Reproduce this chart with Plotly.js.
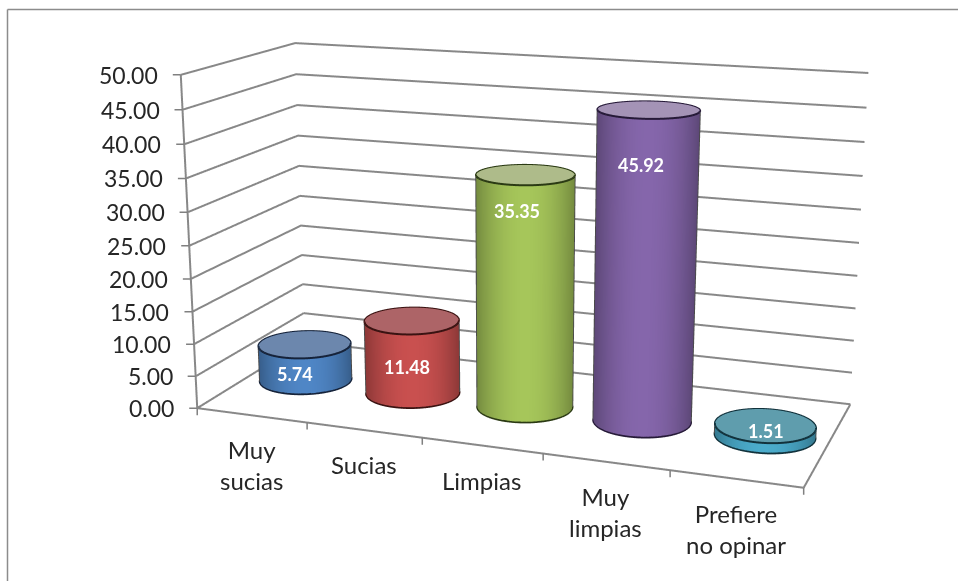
<!DOCTYPE html>
<html><head><meta charset="utf-8"><script src="https://cdn.plot.ly/plotly-3.0.1.min.js"></script>
<style>html,body{margin:0;padding:0;background:#fff;overflow:hidden;width:958px;height:581px}
#wrap{position:relative;width:958px;height:581px;overflow:hidden;filter:blur(0.4px)}
#c{position:absolute;left:-392px;top:-450px;width:1800px;height:1474px}</style></head>
<body><div id="wrap"><div id="c"></div></div>
<script>
var categories=['Muy<br>sucias','Sucias','Limpias','Muy<br>limpias','Prefiere<br>no opinar'];
var values=[5.74,11.48,35.35,45.92,1.51];
var valueLabels=['5.74','11.48','35.35','45.92','1.51'];
var axisTicks=[0,5,10,15,20,25,30,35,40,45,50];
var axisTickLabels=['0.00','5.00','10.00','15.00','20.00','25.00','30.00','35.00','40.00','45.00','50.00'];
var categoryEdges=[0,1,2,3,4,5];
var sideColors=[[79,134,198],[201,80,79],[166,198,90],[133,102,171],[75,172,204]];
var capColors=['#6c87ad','#ad6467','#aebb8a','#a493b6','#5f9dad'];
var rimColors=['#16233a','#3a1312','#2b3a14','#261a38','#12323c'];
var labelShiftX=[-10,-5,-8,-8,1];
var labelShiftY=[-30,-46,-36,-55,-5];

var W=1800,H=1474,LEFT=-392,TOP=-450;
var DEPTH=1.953,RADIUS=0.39,GREY='#888888',TICK='#808080';
var eye={x:0.9342,y:-2.6030,z:0.6949},dir=[-0.3346,0.9038,-0.2669];
var center={x:eye.x+dir[0]*2.85,y:eye.y+dir[1]*2.85,z:eye.z+dir[2]*2.85};
var ex=(eye.x+0.5)*5,ey=eye.y*5+DEPTH/2;

function path(x,y,z,color,width){return {type:'scatter3d',mode:'lines',x:x,y:y,z:z,line:{color:color,width:width},hoverinfo:'skip',showlegend:false};}
function tick(x,z,ax,ay){return {x:x,y:0,z:z,text:' ',font:{size:1},borderpad:0,borderwidth:0,showarrow:true,arrowhead:0,arrowwidth:1.5,arrowcolor:TICK,ax:ax,ay:ay,standoff:0,startstandoff:0};}

var traces=[],annotations=[];
axisTicks.forEach(function(t,i){
  traces.push(path([0,0,5],[0,DEPTH,DEPTH],[t,t,t],GREY,4));
  annotations.push(tick(0,t,-8,0));
  annotations.push({x:0,y:0,z:t,text:axisTickLabels[i],showarrow:false,xanchor:'right',yanchor:'middle',xshift:-21,
    font:{family:'Lato, sans-serif',size:23,color:'#262626'}});
});
traces.push(path([0,5,5],[0,0,DEPTH],[0,0,0],GREY,4));
traces.push(path([0,0],[0,0],[0,50],GREY,4));
categoryEdges.forEach(function(e){annotations.push(tick(e,0,0,7));});
values.forEach(function(v,n){
  var cx=n+0.5,cy=DEPTH/2,N=120,X=[],Y=[],Z=[],I=[],J=[],K=[],C=[];
  var vx=ex-cx,vy=ey-cy,vl=Math.hypot(vx,vy);vx/=vl;vy/=vl;
  var s=sideColors[n];
  for(var q=0;q<N;q++){
    var a=q*2*Math.PI/N,ca=Math.cos(a),sa=Math.sin(a),u=ca*(-vy)+sa*vx;
    var f=0.70+0.30*(1-u*u);
    var col='rgb('+s.map(function(c){return Math.round(c*f)}).join(',')+')';
    X.push(cx+RADIUS*ca,cx+RADIUS*ca);Y.push(cy+RADIUS*sa,cy+RADIUS*sa);Z.push(0,v);C.push(col,col);
    var b=(q+1)%N;
    I.push(2*q,2*q+1);J.push(2*b,2*b);K.push(2*q+1,2*b+1);
  }
  var base=X.length;
  X.push(cx);Y.push(cy);Z.push(v);C.push(capColors[n]);
  for(q=0;q<N;q++){a=q*2*Math.PI/N;X.push(cx+RADIUS*Math.cos(a));Y.push(cy+RADIUS*Math.sin(a));Z.push(v);C.push(capColors[n]);
    I.push(base);J.push(base+1+q);K.push(base+1+(q+1)%N);}
  traces.push({type:'mesh3d',x:X,y:Y,z:Z,i:I,j:J,k:K,vertexcolor:C,flatshading:false,hoverinfo:'skip',
    lighting:{ambient:1,diffuse:0,specular:0,roughness:1,fresnel:0}});
  function ring(z){var a=[],b=[],c=[];for(var q=0;q<=N;q++){var t=q*2*Math.PI/N;a.push(cx+RADIUS*1.004*Math.cos(t));b.push(cy+RADIUS*1.004*Math.sin(t));c.push(z);}
    return path(a,b,c,rimColors[n],4);}
  traces.push(ring(v));traces.push(ring(0));
  var phi=Math.atan2(vy,vx),del=Math.acos(RADIUS/vl);
  [phi+del,phi-del].forEach(function(t){
    var px=cx+RADIUS*1.004*Math.cos(t),py=cy+RADIUS*1.004*Math.sin(t);
    traces.push(path([px,px],[py,py],[0,v],'#4a4a4a',3));
  });
  annotations.push({x:cx,y:cy,z:v,text:'<b>'+valueLabels[n]+'</b>',showarrow:false,xanchor:'center',yanchor:'middle',
    xshift:labelShiftX[n],yshift:labelShiftY[n],font:{family:'Lato, sans-serif',size:18,color:'#ffffff'}});
  annotations.push({x:cx,y:0,z:0,text:categories[n],showarrow:false,xanchor:'center',yanchor:'top',yshift:-18,
    font:{family:'Lato, sans-serif',size:24,color:'#262626'}});
});
var plain={showbackground:false,showgrid:false,zeroline:false,showspikes:false,showticklabels:false,showline:false,ticks:'',title:{text:''}};
var layout={width:W,height:H,margin:{l:0,r:0,t:0,b:0},paper_bgcolor:'#fff',showlegend:false,hovermode:false,
  shapes:[
    {type:'line',xref:'paper',yref:'paper',x0:(7.5-LEFT)/W,x1:(958-LEFT)/W,y0:1-(9.5-TOP)/H,y1:1-(9.5-TOP)/H,line:{color:'#8c8c8c',width:1.5}},
    {type:'line',xref:'paper',yref:'paper',x0:(7.5-LEFT)/W,x1:(7.5-LEFT)/W,y0:1-(9.5-TOP)/H,y1:1-(581-TOP)/H,line:{color:'#8c8c8c',width:1.5}}],
  scene:{domain:{x:[0,1],y:[0,1]},aspectmode:'manual',aspectratio:{x:1,y:DEPTH/5,z:0.5484},
    camera:{eye:eye,center:center,up:{x:0,y:0,z:1},projection:{type:'perspective'}},
    xaxis:Object.assign({},plain,{range:[0,5]}),
    yaxis:Object.assign({},plain,{range:[0,DEPTH]}),
    zaxis:Object.assign({},plain,{range:[0,50]}),
    annotations:annotations}};
Plotly.newPlot('c',traces,layout,{displayModeBar:false});
</script></body></html>
